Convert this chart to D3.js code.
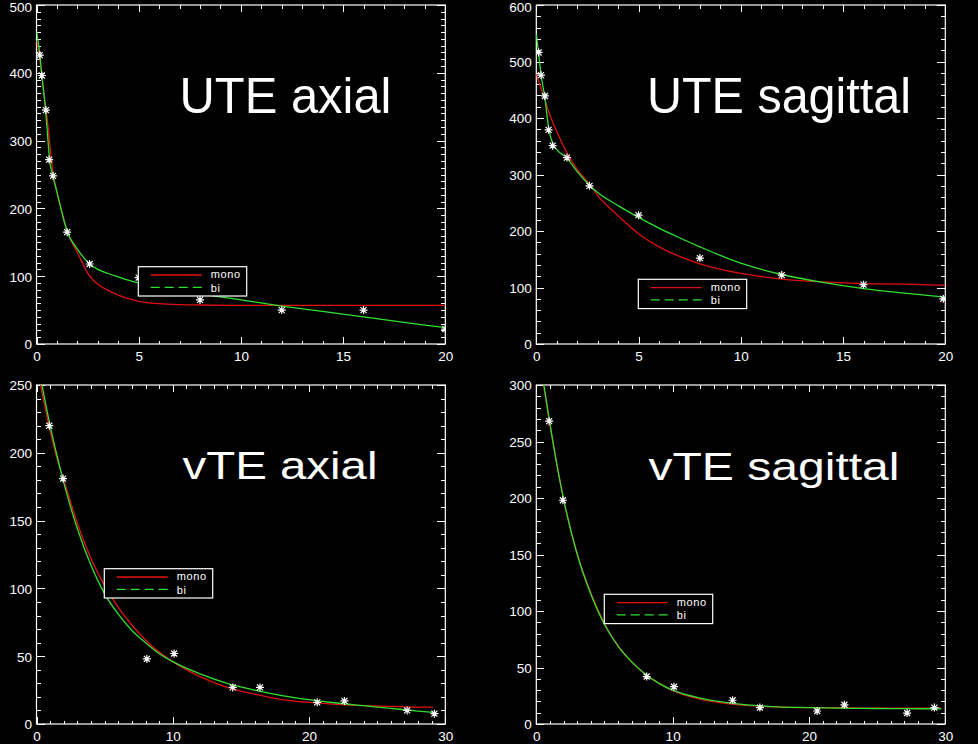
<!DOCTYPE html>
<html>
<head>
<meta charset="utf-8">
<script src="https://cdn.jsdelivr.net/npm/d3@7"></script>
<style>
  html, body { margin: 0; padding: 0; background: #000; }
  svg { display: block; }
</style>
</head>
<body>
<div id="chart"></div>
<script>
// =======================
// measured points (TE, signal)
// =======================
const uteAxialTE = [0.16, 0.26, 0.46, 0.62, 0.81, 1.5, 2.6, 5, 8, 12, 16, 20];
const uteAxialSignal = [426, 396, 345, 272, 248, 165, 118, 98, 65, 50, 50, 22];

const uteSagTE = [0.11, 0.23, 0.42, 0.6, 0.8, 1.5, 2.6, 5, 8, 12, 16, 19.9];
const uteSagSignal = [516, 476, 439, 379, 351, 330, 280, 228, 152, 122, 105, 80];

const vteTE = [0.94, 1.95, 8.1, 10.1, 14.4, 16.4, 20.6, 22.6, 27.2, 29.2];
const vteAxialSignal = [220, 181, 48, 52, 27, 27, 16, 17, 10, 7.6];
const vteSagSignal = [268, 198, 42, 33, 21, 14.5, 11.5, 17, 9.7, 14.5];

// =======================
// fitted curves (mono = red, bi = green)
// =======================
const uteAxialFitTE = [0, 0.16, 0.26, 0.44, 0.55, 0.64, 0.81, 1, 1.25, 1.5, 2, 2.6, 3, 3.5, 4, 5, 6, 7, 8, 10, 12, 14, 16, 18, 20];
const uteAxialMono = [448, 420, 396, 352, 325, 298, 252, 224, 194, 166, 135, 100, 88, 79, 72, 63, 59.5, 58, 57.5, 57, 57, 57, 57, 57, 57];
const uteAxialBi = [461, 428, 396, 346, 305, 272, 247, 224, 193, 166, 140, 118, 110, 104, 99, 90, 84, 79, 74, 65, 56, 48, 40, 32, 24];

const uteSagFitTE = [0, 0.11, 0.23, 0.42, 0.6, 0.8, 1, 1.5, 2, 2.6, 3, 4, 5, 6, 7, 8, 10, 12, 14, 16, 18, 20];
const uteSagMono = [478, 466, 453, 432, 412, 393, 376, 338, 309, 283, 263, 227, 195, 172, 155, 142, 125, 115, 110, 107, 106, 104];
const uteSagBi = [548, 516, 477, 436, 383, 355, 344, 329, 305, 281, 268, 245, 224, 205, 188, 172, 143, 123, 109, 98, 90, 83];

const vteAxialFitTE = [0, 0.5, 1, 1.5, 2, 3, 4, 5, 6, 7, 8, 9, 10, 12, 14, 16, 18, 20, 22, 24, 26, 28, 29.1];
const vteAxialMono = [264, 240, 216, 196, 180, 148, 122, 102, 86, 73, 62, 53, 46, 35, 27, 22, 18, 16, 14.5, 13.5, 13, 12.5, 12.5];
const vteAxialBi = [272, 245, 220, 198, 178, 144, 117, 96, 81, 69, 60, 52, 46, 37, 30, 25, 21, 18, 15.5, 13.5, 11.5, 9.5, 8.5];

const vteSagFitTE = [0, 0.5, 1, 1.5, 2, 3, 4, 5, 6, 7, 8, 9, 10, 12, 14, 16, 18, 20, 22, 24, 26, 28, 29.7];
const vteSagMono = [348, 303, 265, 231, 199, 151, 116, 89, 69, 55, 44, 36, 29.5, 22, 18, 16, 15, 14.5, 14.5, 14, 14, 14, 14];
const vteSagBi = [352, 305, 266, 230, 199, 150, 115, 88, 69, 55, 44, 36, 30, 23, 19, 16.5, 15, 14.5, 14, 13.8, 13.6, 13.5, 13.5];

// =======================
// tick labels
// =======================
const xTicksUTE = [0, 5, 10, 15, 20];
const xTicksVTE = [0, 10, 20, 30];
const yTicksUteAxial = [0, 100, 200, 300, 400, 500];
const yTicksUteSag = [0, 100, 200, 300, 400, 500, 600];
const yTicksVteAxial = [0, 50, 100, 150, 200, 250];
const yTicksVteSag = [0, 50, 100, 150, 200, 250, 300];

const legendLabels = ["mono", "bi"];
const monoColor = "#e01010",
  biColor = "#30e030";

// panel layout (pixel boxes measured on the original)
const panels = [
  { title: "UTE axial", te: uteAxialTE, sig: uteAxialSignal, fitX: uteAxialFitTE, mono: uteAxialMono, bi: uteAxialBi,
    xTicks: xTicksUTE, yTicks: yTicksUteAxial, xMinor: 1, yMinor: 10,
    box: [36.5, 5, 445.3, 344], title_x: 179.5, title_y: 113.3, title_size: 50, title_len: 212, legend: [138.3, 266.7] },
  { title: "UTE sagittal", te: uteSagTE, sig: uteSagSignal, fitX: uteSagFitTE, mono: uteSagMono, bi: uteSagBi,
    xTicks: xTicksUTE, yTicks: yTicksUteSag, xMinor: 1, yMinor: 20,
    box: [536.3, 5, 945.3, 344], title_x: 647, title_y: 113.3, title_size: 50, title_len: 264, legend: [638.3, 279.3] },
  { title: "vTE axial", te: vteTE, sig: vteAxialSignal, fitX: vteAxialFitTE, mono: vteAxialMono, bi: vteAxialBi,
    xTicks: xTicksVTE, yTicks: yTicksVteAxial, xMinor: 1, yMinor: 10,
    box: [36.5, 385, 445.3, 724], title_x: 182.5, title_y: 479, title_size: 39.5, title_len: 195, legend: [104.3, 568.7] },
  { title: "vTE sagittal", te: vteTE, sig: vteSagSignal, fitX: vteSagFitTE, mono: vteSagMono, bi: vteSagBi,
    xTicks: xTicksVTE, yTicks: yTicksVteSag, xMinor: 1, yMinor: 10,
    box: [536.3, 385, 945.3, 724], title_x: 648.5, title_y: 479.5, title_size: 39.5, title_len: 251, legend: [604.3, 594.3] }
];

const svg = d3.select("#chart")
  .append("svg")
  .attr("width", 978)
  .attr("height", 744)
  .style("background", "#000");

// IDL style asterisk (plus + cross)
const asterisk = "M-4,0H4M0,-4V4M-3,-3L3,3M-3,3L3,-3";

panels.forEach(function (p, i) {
  const [x0, y0, x1, y1] = p.box;
  const xMax = p.xTicks[p.xTicks.length - 1],
    yMax = p.yTicks[p.yTicks.length - 1];

  const x = d3.scaleLinear().domain([0, xMax]).range([x0, x1]);
  const y = d3.scaleLinear().domain([0, yMax]).range([y1, y0]);

  const g = svg.append("g");

  // clip to the plot window
  g.append("clipPath")
    .attr("id", "clip" + i)
    .append("rect")
    .attr("x", x0).attr("y", y0)
    .attr("width", x1 - x0).attr("height", y1 - y0);

  const xMinorTicks = d3.range(0, xMax + 1e-6, p.xMinor);
  const yMinorTicks = d3.range(0, yMax + 1e-6, p.yMinor);

  // minor ticks on all four sides, plus majors on top / right
  const axes = [
    [d3.axisBottom(x).tickValues(xMinorTicks).tickSize(-3.5), "translate(0," + y1 + ")"],
    [d3.axisTop(x).tickValues(xMinorTicks).tickSize(-3.5), "translate(0," + y0 + ")"],
    [d3.axisLeft(y).tickValues(yMinorTicks).tickSize(-4.5), "translate(" + x0 + ",0)"],
    [d3.axisRight(y).tickValues(yMinorTicks).tickSize(-4.5), "translate(" + x1 + ",0)"],
    [d3.axisTop(x).tickValues(p.xTicks).tickSize(-7), "translate(0," + y0 + ")"],
    [d3.axisRight(y).tickValues(p.yTicks).tickSize(-8), "translate(" + x1 + ",0)"]
  ];
  axes.forEach(function (a) {
    g.append("g")
      .attr("transform", a[1])
      .call(a[0].tickFormat("").tickSizeOuter(0));
  });

  // major ticks with labels
  g.append("g")
    .attr("class", "lab")
    .attr("transform", "translate(0," + y1 + ")")
    .call(d3.axisBottom(x).tickValues(p.xTicks).tickSize(-7).tickSizeOuter(0).tickPadding(7));
  const yAxis = g.append("g")
    .attr("class", "lab")
    .attr("transform", "translate(" + x0 + ",0)")
    .call(d3.axisLeft(y).tickValues(p.yTicks).tickSize(-8).tickSizeOuter(0).tickPadding(4.5));

  // keep the top label inside the window (the original is just cropped there)
  yAxis.selectAll(".tick text")
    .attr("dy", function (d) { return d === yMax && y0 < 10 ? "0.75em" : "0.36em" })
    .attr("y", function (d) { return d === yMax && y0 < 10 ? -3.5 : 0 });

  g.selectAll(".domain").remove();
  g.selectAll(".tick line")
    .attr("stroke", "#fff")
    .attr("stroke-width", 1)
    .attr("shape-rendering", "crispEdges");
  g.selectAll(".lab text")
    .attr("fill", "#fff")
    .style("font-family", "'Liberation Sans', Arial, sans-serif")
    .style("font-size", "13.5px");

  // frame
  g.append("rect")
    .attr("x", x0).attr("y", y0)
    .attr("width", x1 - x0).attr("height", y1 - y0)
    .attr("fill", "none")
    .attr("stroke", "#fff")
    .attr("stroke-width", 1.2);

  const plot = g.append("g").attr("clip-path", "url(#clip" + i + ")");

  const line = d3.line()
    .x(function (d) { return x(d[0]) })
    .y(function (d) { return y(d[1]) })
    .curve(d3.curveMonotoneX);

  plot.append("path")
    .attr("d", line(d3.zip(p.fitX, p.mono)))
    .attr("fill", "none")
    .attr("stroke", monoColor)
    .attr("stroke-width", 1.3);

  plot.append("path")
    .attr("d", line(d3.zip(p.fitX, p.bi)))
    .attr("fill", "none")
    .attr("stroke", biColor)
    .attr("stroke-width", 1.3);

  plot.selectAll("path.pt")
    .data(d3.zip(p.te, p.sig))
    .join("path")
    .attr("class", "pt")
    .attr("d", asterisk)
    .attr("transform", function (d) { return "translate(" + x(d[0]) + "," + y(d[1]) + ")" })
    .attr("fill", "none")
    .attr("stroke", "#fff")
    .attr("stroke-width", 1.2);

  // title
  g.append("text")
    .attr("x", p.title_x)
    .attr("y", p.title_y)
    .attr("textLength", p.title_len)
    .attr("lengthAdjust", "spacingAndGlyphs")
    .attr("fill", "#fff")
    .style("font-family", "'Liberation Sans', Arial, sans-serif")
    .style("font-size", p.title_size + "px")
    .text(p.title);

  // legend
  const [lx, ly] = p.legend;
  const lg = g.append("g").attr("transform", "translate(" + lx + "," + ly + ")");
  lg.append("rect")
    .attr("width", 108.4).attr("height", 29.3)
    .attr("fill", "#000")
    .attr("stroke", "#fff")
    .attr("stroke-width", 1.2);
  const rows = [
    { label: legendLabels[0], color: monoColor, dash: null, y: 8.3, ty: 11.6 },
    { label: legendLabels[1], color: biColor, dash: "9,5", y: 20.6, ty: 25 }
  ];
  rows.forEach(function (r) {
    lg.append("line")
      .attr("x1", 12.4).attr("x2", 63.4)
      .attr("y1", r.y).attr("y2", r.y)
      .attr("stroke", r.color)
      .attr("stroke-width", 1.3)
      .attr("stroke-dasharray", r.dash);
    lg.append("text")
      .attr("x", 72.5)
      .attr("y", r.ty)
      .attr("fill", "#fff")
      .style("font-family", "'Liberation Sans', Arial, sans-serif")
      .style("font-size", "11px")
      .style("letter-spacing", "0.6px")
      .text(r.label);
  });
});
</script>
</body>
</html>
